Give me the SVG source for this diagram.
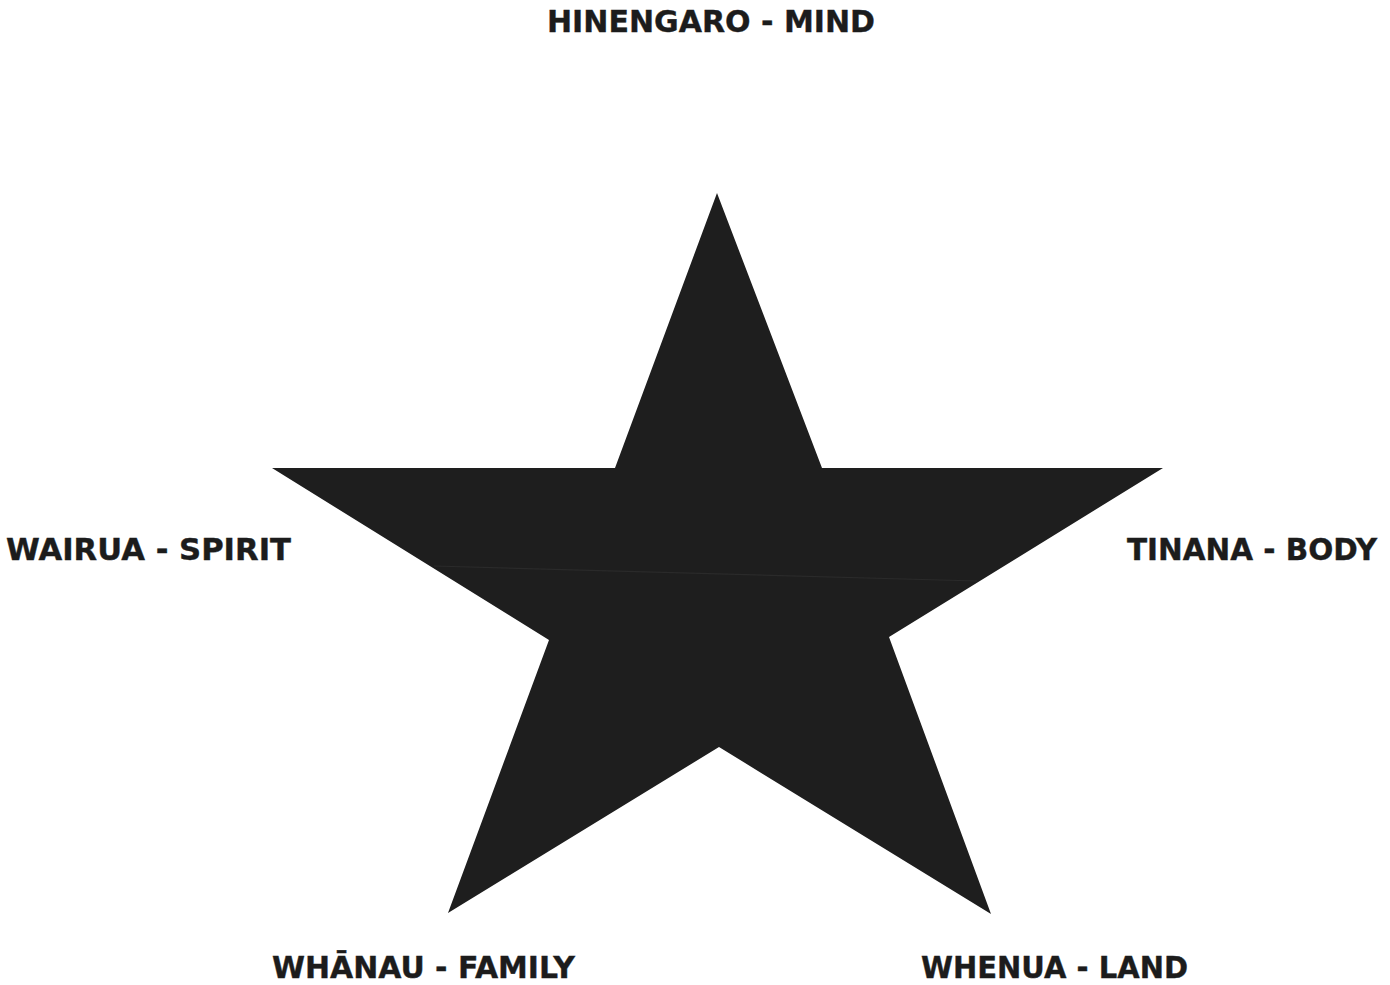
<svg xmlns="http://www.w3.org/2000/svg" width="1390" height="985" viewBox="0 0 1390 985">
<style>
.lbl{font-family:"DejaVu Sans","Verdana",sans-serif;font-weight:bold;font-size:31px;fill:#1c1c1c;stroke:#1c1c1c;stroke-width:0.4}
</style>
<rect width="1390" height="985" fill="#ffffff"/>
<g id="star">
<polygon points="717,193 822,468 1163,468 889,637 991,914 719,747 448,913 549,640 272,468 615,468" fill="#1e1e1e"/>
<line x1="434" y1="566" x2="977" y2="581" stroke="#2a2a2a" stroke-width="1.2"/>
</g>
<g id="mind"><text class="lbl" x="547" y="32" textLength="328" lengthAdjust="spacingAndGlyphs">HINENGARO - MIND</text></g>
<g id="spirit"><text class="lbl" x="6" y="560" textLength="285" lengthAdjust="spacingAndGlyphs">WAIRUA - SPIRIT</text></g>
<g id="body"><text class="lbl" x="1127" y="560" textLength="250" lengthAdjust="spacingAndGlyphs">TINANA - BODY</text></g>
<g id="family"><text class="lbl" x="272" y="978" textLength="303" lengthAdjust="spacingAndGlyphs">WHĀNAU - FAMILY</text></g>
<g id="land"><text class="lbl" x="921" y="978" textLength="267" lengthAdjust="spacingAndGlyphs">WHENUA - LAND</text></g>
</svg>
